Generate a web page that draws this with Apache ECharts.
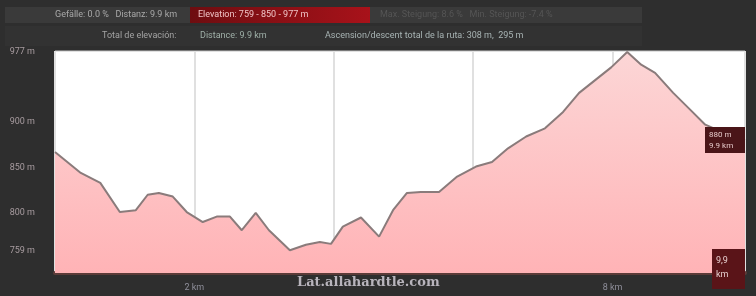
<!DOCTYPE html>
<html>
<head>
<meta charset="utf-8">
<script src="https://cdn.jsdelivr.net/npm/echarts@6/dist/echarts.min.js"></script>
<style>
  html, body { margin: 0; padding: 0; background: #2e2e2e; }
  #chart { width: 756px; height: 296px; }
</style>
</head>
<body>
<div id="chart"></div>
<script>
// distance along the track (km) and elevation (m)
const distKm = [0, 0.37, 0.65, 0.93, 1.16, 1.33, 1.49, 1.69, 1.89, 2.12, 2.32, 2.51, 2.68, 2.88, 3.07,
  3.37, 3.60, 3.80, 3.96, 4.13, 4.39, 4.65, 4.85, 5.05, 5.25, 5.51, 5.77, 6.04, 6.27, 6.50, 6.76,
  7.03, 7.29, 7.52, 7.75, 7.98, 8.21, 8.41, 8.61, 8.87, 9.12, 9.33, 9.60, 9.90];
const elevM = [867, 844, 833, 801, 803, 820, 822, 818, 801, 790, 796, 796, 781, 800, 781,
  759, 765, 768, 766, 785, 795, 774, 803, 822, 823, 823, 840, 851, 856, 871, 884,
  893, 911, 932, 946, 960, 977, 963, 954, 932, 913, 897, 888, 880];
const yTickValues = [759, 800, 850, 900, 977];
const xTickLabels = { 2: '2 km', 8: '8 km' };

// 图表
const chart = echarts.init(document.getElementById('chart'));
const points = distKm.map((d, i) => [d, elevM[i]]);
const font = 'Roboto, "DejaVu Sans", sans-serif';

chart.setOption({
  backgroundColor: '#2e2e2e',
  animation: false,
  grid: {
    left: 55, right: 11, top: 51, bottom: 23,
    show: true, backgroundColor: '#ffffff', borderColor: '#c4c4c4', borderWidth: 1
  },
  xAxis: {
    type: 'value', min: 0, max: 9.9, interval: 2,
    axisLine: { show: true, lineStyle: { color: '#5b3b38', width: 4 } },
    axisTick: { show: false },
    splitLine: { show: true, lineStyle: { color: '#e0e0e0', width: 2 } },
    axisLabel: {
      color: '#8f8f9a', fontSize: 9, fontFamily: font, margin: 10,
      showMinLabel: false, showMaxLabel: false,
      formatter: v => xTickLabels[v] || ''
    }
  },
  yAxis: {
    type: 'value', min: 734, max: 978,
    axisLine: { show: false },
    axisTick: { show: false },
    splitLine: { show: false },
    axisLabel: {
      customValues: yTickValues,
      color: '#a89ca0', fontSize: 9, fontFamily: font, margin: 20,
      formatter: v => v + ' m'
    }
  },
  series: [{
    type: 'line',
    data: points,
    symbol: 'none',
    lineStyle: { color: '#8a7b7b', width: 2 },
    areaStyle: {
      opacity: 1,
      color: new echarts.graphic.LinearGradient(0, 0, 0, 1, [
        { offset: 0, color: '#fcd6d6' },
        { offset: 1, color: '#ffb3b6' }
      ])
    }
  }],
  graphic: [
    // 顶部信息栏
    { type: 'rect', z: 100, left: 5, top: 7, shape: { width: 637, height: 16 }, style: { fill: '#3a3a3a' } },
    { type: 'rect', z: 100, left: 190, top: 7, shape: { width: 180, height: 16 },
      style: { fill: new echarts.graphic.LinearGradient(0, 0, 1, 0, [
        { offset: 0, color: '#6e0d10' }, { offset: 1, color: '#a8121a' }]) } },
    { type: 'text', z: 101, left: 55, top: 10, style: { text: 'Gefälle: 0.0 %   Distanz: 9.9 km', fill: '#a9a9a9', font: '9px ' + font } },
    { type: 'text', z: 101, left: 198, top: 10, style: { text: 'Elevation: 759 - 850 - 977 m', fill: '#f0c4c6', font: '9px ' + font } },
    { type: 'text', z: 101, left: 380, top: 10, style: { text: 'Max. Steigung: 8.6 %   Min. Steigung: -7.4 %', fill: '#555555', font: '9px ' + font } },
    { type: 'rect', z: 100, left: 5, top: 26, shape: { width: 637, height: 20 }, style: { fill: '#323232' } },
    { type: 'text', z: 101, left: 102, top: 31, style: { text: 'Total de elevación:', fill: '#a4a4a4', font: '9px ' + font } },
    { type: 'text', z: 101, left: 200, top: 31, style: { text: 'Distance: 9.9 km', fill: '#9fb0a8', font: '9px ' + font } },
    { type: 'text', z: 101, left: 325, top: 31, style: { text: 'Ascension/descent total de la ruta: 308 m,  295 m', fill: '#a8b4b4', font: '9px ' + font } },
    // 右侧标签
    { type: 'rect', z: 100, left: 705, top: 127, shape: { width: 40, height: 26 }, style: { fill: '#4a1518' } },
    { type: 'text', z: 101, left: 709, top: 129, style: { text: '880 m\n9.9 km', fill: '#e4c8c8', font: '8px ' + font, lineHeight: 11 } },
    { type: 'rect', z: 100, left: 712, top: 249, shape: { width: 33, height: 40 }, style: { fill: '#5a1418' } },
    { type: 'text', z: 101, left: 716, top: 254, style: { text: '9,9\nkm', fill: '#e8d0d0', font: '9px ' + font, lineHeight: 14 } },
    // 水印
    { type: 'text', z: 101, left: 297, top: 276, style: { text: 'Lat.allahardtle.com', fill: '#b8b4bc', font: 'bold 13px "DejaVu Serif", serif' } }
  ]
});
</script>
</body>
</html>
